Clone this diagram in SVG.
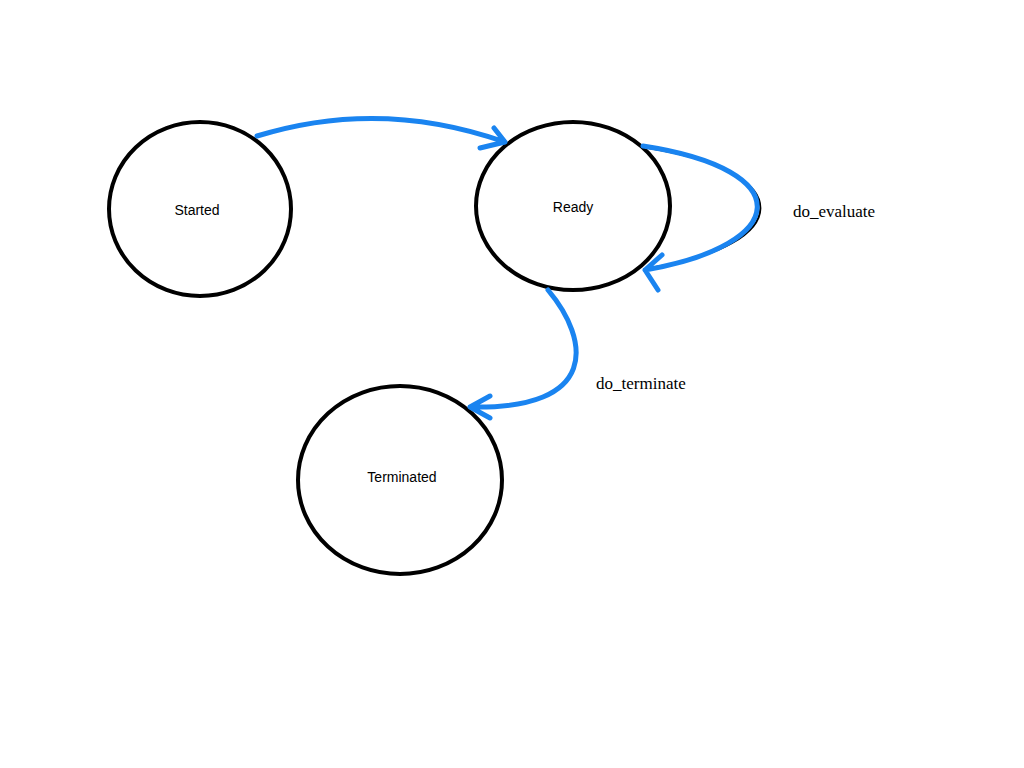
<svg xmlns="http://www.w3.org/2000/svg" width="1024" height="768" viewBox="0 0 1024 768">
<style>
.n{fill:none;stroke:#000;stroke-width:4}
.t{font-family:"Liberation Sans",Arial,sans-serif;font-size:14px;text-anchor:middle;fill:#000}
.c{fill:none;stroke:#1a84f0;stroke-width:5;stroke-linecap:round;stroke-linejoin:round}
.l{font-family:"Liberation Serif","Times New Roman",serif;font-size:17px;fill:#000}
</style>
<rect width="1024" height="768" fill="#fff"/>
<g id="started"><ellipse class="n" cx="200" cy="209" rx="91" ry="87"/><text class="t" x="197" y="215">Started</text></g>
<g id="ready"><ellipse class="n" cx="573" cy="206" rx="97" ry="84"/><text class="t" x="573" y="212">Ready</text></g>
<g id="terminated"><ellipse class="n" cx="400" cy="480" rx="102" ry="94"/><text class="t" x="402" y="482">Terminated</text></g>
<g id="connectors">
<path class="c" d="M257,136 Q380,98 505,142 M480,148 L505,142 L494,128"/>
<path d="M648,148 C800,172 795,245 650,268" fill="none" stroke="#000" stroke-width="2"/>
<path class="c" d="M643,146 C800,170 790,245 645,270 M662,255 L645,270 L658,290"/>
<path class="c" d="M548,290 C590,340 600,410 470,407 M490,396 L470,407 L490,418"/>
</g>
<text class="l" x="793" y="217">do_evaluate</text>
<text class="l" x="596" y="389">do_terminate</text>
</svg>
